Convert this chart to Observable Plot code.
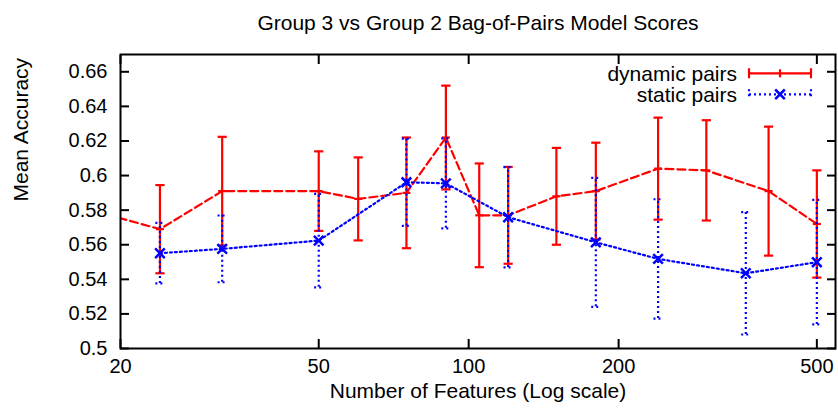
<!DOCTYPE html>
<html><head><meta charset="utf-8">
<script src="https://cdn.jsdelivr.net/npm/d3@7"></script>
<script src="https://cdn.jsdelivr.net/npm/@observablehq/plot@0.6"></script>
<style>body{margin:0;background:#fff}</style>
</head><body><div id="chart"></div>
<script>
const title = "Group 3 vs Group 2 Bag-of-Pairs Model Scores";
const xLabel = "Number of Features (Log scale)";
const yLabel = "Mean Accuracy";
const seriesNames = ["dynamic pairs", "static pairs"];

const dynX   = [16, 24, 32, 50, 60, 75, 90, 105, 120, 150, 180, 240, 300, 400, 500];
const dynY   = [0.583, 0.569, 0.591, 0.591, 0.5865, 0.590, 0.622, 0.577, 0.577, 0.588, 0.591, 0.604, 0.603, 0.591, 0.572];
const dynErr = [0.025, 0.0255, 0.0314, 0.023, 0.024, 0.032, 0.030, 0.030, 0.028, 0.028, 0.028, 0.0295, 0.029, 0.0373, 0.031];

const statX   = [24, 32, 50, 75, 90, 120, 180, 240, 360, 500];
const statY   = [0.5551, 0.5576, 0.5624, 0.5961, 0.5955, 0.5759, 0.5614, 0.5518, 0.5435, 0.5499];
const statErr = [0.0175, 0.0193, 0.027, 0.0252, 0.026, 0.029, 0.0373, 0.0345, 0.0354, 0.036];

const xTicks = [20, 50, 100, 200, 500];
const yTicks = [0.5, 0.52, 0.54, 0.56, 0.58, 0.6, 0.62, 0.64, 0.66];

const dyn = dynX.map((x, i) => ({x, y: dynY[i], lo: dynY[i] - dynErr[i], hi: dynY[i] + dynErr[i]}));
const stat = statX.map((x, i) => ({x, y: statY[i], lo: statY[i] - statErr[i], hi: statY[i] + statErr[i]}));

const RED = "#ff0000", BLUE = "#0000ff";
const DOT = "2,3";
const capSym = {draw(ctx, size) { const r = Math.sqrt(size / Math.PI); ctx.moveTo(-r, 0); ctx.lineTo(r, 0); }};
const timesSym = {draw(ctx, size) { const r = Math.sqrt(size / Math.PI); ctx.moveTo(-r, -r); ctx.lineTo(r, r); ctx.moveTo(-r, r); ctx.lineTo(r, -r); }};
const yFmt = d => String(+d.toFixed(2));

const chart = Plot.plot({
  width: 838, height: 414,
  marginLeft: 120, marginRight: 3, marginTop: 54, marginBottom: 66,
  style: {fontFamily: "'Liberation Sans', Arial, sans-serif", fontSize: "20px", background: "#fff", color: "#000"},
  x: {type: "log", domain: [20, 545], label: null},
  y: {domain: [0.5, 0.67], label: null},
  marks: [
    // axes: labels
    Plot.axisX(xTicks, {tickSize: 0, tickPadding: 10, tickFormat: d => String(d)}),
    Plot.axisY(yTicks, {tickSize: 0, tickPadding: 13, tickFormat: yFmt}),
    // inward ticks on all four sides
    Plot.axisX(xTicks, {anchor: "bottom", tickSize: -9, strokeWidth: 2, fill: "none"}),
    Plot.axisX(xTicks, {anchor: "top", tickSize: -9, strokeWidth: 2, fill: "none"}),
    Plot.axisY(yTicks, {anchor: "left", tickSize: -9, strokeWidth: 2, fill: "none"}),
    Plot.axisY(yTicks, {anchor: "right", tickSize: -9, strokeWidth: 2, fill: "none"}),
    // dynamic pairs
    Plot.ruleX(dyn, {x: "x", y1: "lo", y2: "hi", stroke: RED, strokeWidth: 2.2, clip: true}),
    Plot.dot(dyn, {x: "x", y: "hi", symbol: capSym, r: 4.6, fill: "none", stroke: RED, strokeWidth: 2.2, clip: true}),
    Plot.dot(dyn, {x: "x", y: "lo", symbol: capSym, r: 4.6, fill: "none", stroke: RED, strokeWidth: 2.2, clip: true}),
    Plot.line(dyn, {x: "x", y: "y", stroke: RED, strokeWidth: 2.2, strokeDasharray: "8,4", clip: true}),
    Plot.dot(dyn, {x: "x", y: "y", symbol: capSym, r: 4, fill: "none", stroke: RED, strokeWidth: 2.2, clip: true}),
    // static pairs
    Plot.ruleX(stat, {x: "x", y1: "lo", y2: "hi", stroke: BLUE, strokeWidth: 2.2, strokeDasharray: DOT, clip: true}),
    Plot.dot(stat, {x: "x", y: "hi", symbol: capSym, r: 4.6, fill: "none", stroke: BLUE, strokeWidth: 2.2, strokeDasharray: DOT, clip: true}),
    Plot.dot(stat, {x: "x", y: "lo", symbol: capSym, r: 4.6, fill: "none", stroke: BLUE, strokeWidth: 2.2, strokeDasharray: DOT, clip: true}),
    Plot.line(stat, {x: "x", y: "y", stroke: BLUE, strokeWidth: 2.2, strokeDasharray: DOT, clip: true}),
    Plot.dot(stat, {x: "x", y: "y", symbol: timesSym, r: 4.8, fill: "none", stroke: BLUE, strokeWidth: 2.5, clip: true}),
    // frame
    Plot.frame({stroke: "#000", strokeWidth: 2}),
    // titles
    Plot.text([title], {text: d => d, frameAnchor: "top", lineAnchor: "middle", dy: -31, fontSize: 21}),
    Plot.text([xLabel], {text: d => d, frameAnchor: "bottom", lineAnchor: "middle", dy: 42.5, fontSize: 21}),
    Plot.text([yLabel], {text: d => d, frameAnchor: "left", lineAnchor: "middle", rotate: -90, dx: -99.5, fontSize: 21})
  ]
});

// legend (inside the frame, top right)
const svg = d3.select(chart);
const leg = svg.append("g").attr("font-size", 21).attr("font-family", "'Liberation Sans', Arial, sans-serif");
const legRows = [
  {name: seriesNames[0], color: RED, dash: null, y: 73.3, mark: "plus"},
  {name: seriesNames[1], color: BLUE, dash: DOT, y: 94.3, mark: "times"}
];
const lx0 = 749, lx1 = 811, lxm = 780, ltx = 737;
legRows.forEach(r => {
  leg.append("text").attr("x", ltx).attr("y", r.y).attr("dy", "0.35em").attr("text-anchor", "end").attr("fill", "#000").text(r.name);
  const g = leg.append("g").attr("stroke", r.color).attr("stroke-width", 2.2).attr("fill", "none");
  g.append("line").attr("x1", lx0).attr("x2", lx1).attr("y1", r.y).attr("y2", r.y).attr("stroke-dasharray", r.dash);
  g.append("line").attr("x1", lx0).attr("x2", lx0).attr("y1", r.y - 5).attr("y2", r.y + 5).attr("stroke-dasharray", r.dash);
  g.append("line").attr("x1", lx1).attr("x2", lx1).attr("y1", r.y - 5).attr("y2", r.y + 5).attr("stroke-dasharray", r.dash);
  if (r.mark === "plus") {
    g.append("line").attr("x1", lxm).attr("x2", lxm).attr("y1", r.y - 4).attr("y2", r.y + 4);
  } else {
    g.append("path").attr("stroke-width", 2.5).attr("d", `M${lxm-4.8},${r.y-4.8}L${lxm+4.8},${r.y+4.8}M${lxm-4.8},${r.y+4.8}L${lxm+4.8},${r.y-4.8}`);
  }
});

document.getElementById("chart").appendChild(chart);
</script>
</body></html>
